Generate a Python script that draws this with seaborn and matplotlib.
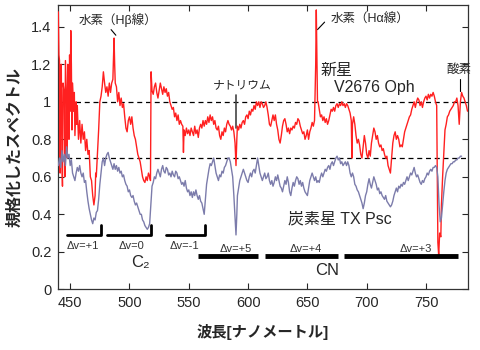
import numpy as np
import matplotlib
matplotlib.use("Agg")
import matplotlib.pyplot as plt
import seaborn as sns

# ---- data ----
# Nova V2676 Oph (red)
nova_wl = [440, 440.5, 441, 441.5, 442, 442.5, 443, 443.5, 444, 445, 445.5, 446, 447, 447.5,
           448, 448.5, 449, 449.5, 450, 450.5, 451, 451.5, 452, 453, 453.5, 454, 455, 455.5,
           456, 457, 458, 459, 460, 461, 462, 463, 464, 465, 466, 467, 468, 469, 470, 471,
           471.5, 472, 473, 474, 475, 476, 477, 478, 479, 480, 481, 482, 483, 484, 485, 486,
           487, 487.5, 488, 489, 490, 491, 492, 493, 494, 495, 496, 497, 498, 499, 500, 501,
           502, 503, 504, 505, 506, 507, 508, 509, 510, 511, 512, 513, 514, 515, 516, 517,
           517.7, 518.2, 519, 520, 521, 522, 523, 524, 525, 526, 527, 528, 529, 530, 531, 532,
           533, 534, 535, 536, 537, 538, 539, 540, 541, 542, 543, 544, 545, 545.5, 546, 547,
           548, 549, 550, 551, 552, 553, 554, 555, 556, 557, 558, 559, 560, 561, 562, 563,
           564, 565, 566, 567, 568, 569, 570, 571, 572, 573, 574, 575, 576, 577, 578, 579,
           580, 581, 582, 583, 584, 585, 586, 587, 588, 589, 589.8, 590.5, 591, 592, 593, 594,
           595, 596, 597, 598, 599, 600, 601, 602, 603, 604, 605, 606, 607, 608, 609, 610,
           611, 612, 613, 614, 615, 616, 617, 618, 619, 620, 621, 622, 623, 624, 625, 626,
           627, 628, 629, 630, 631, 632, 633, 634, 635, 636, 637, 638, 639, 640, 641, 642,
           643, 644, 645, 646, 647, 648, 649, 650, 651, 652, 653, 654, 655, 656, 657, 657.5,
           658, 658.5, 659, 660, 661, 662, 663, 664, 665, 666, 667, 668, 669, 670, 671, 672,
           673, 674, 675, 676, 677, 678, 679, 680, 681, 682, 683, 684, 685, 686, 687, 687.5,
           688, 689, 690, 691, 692, 693, 694, 695, 696, 697, 698, 699, 700, 701, 702, 703,
           704, 705, 706, 707, 708, 709, 710, 711, 712, 713, 714, 715, 716, 717, 718, 719,
           720, 721, 722, 723, 724, 725, 726, 727, 728, 729, 730, 731, 732, 733, 734, 735,
           736, 737, 738, 739, 740, 741, 742, 743, 744, 745, 746, 747, 748, 749, 750, 751,
           752, 753, 754, 755, 756, 757, 758, 759, 759.5, 760, 760.7, 761.5, 762.5, 763, 764,
           765, 766, 767, 768, 769, 770, 771, 772, 773, 774, 775, 776, 777, 778, 779, 780,
           781, 782, 783, 784, 785]
nova_flux = [1.48, 1.25, 1.22, 0.62, 1.15, 1.20, 0.70, 0.55, 1.10, 1.05, 0.60, 1.22, 1.00, 0.70,
             1.20, 1.10, 0.80, 1.25, 0.95, 1.38, 1.20, 0.85, 1.10, 0.95, 1.05, 0.82, 1.00, 0.88,
             0.98, 0.80, 0.90, 0.78, 0.88, 0.80, 0.84, 0.74, 0.80, 0.72, 0.74, 0.60, 0.58, 0.50,
             0.45, 0.50, 0.62, 0.60, 0.72, 0.85, 1.00, 1.03, 1.08, 1.16, 1.10, 1.05, 1.08, 1.03,
             1.10, 1.05, 1.10, 1.12, 1.34, 1.20, 1.10, 1.08, 1.00, 1.05, 0.98, 1.02, 0.97, 0.99,
             0.92, 0.86, 0.84, 0.90, 0.92, 0.88, 0.92, 0.86, 0.82, 0.80, 0.76, 0.72, 0.70, 0.68,
             0.64, 0.60, 0.58, 0.57, 0.60, 0.58, 0.62, 0.60, 0.58, 1.16, 1.06, 1.04, 1.08, 1.10,
             1.05, 1.02, 1.06, 1.10, 1.07, 1.04, 1.08, 1.05, 1.07, 1.03, 1.05, 1.00, 0.98, 0.96,
             0.97, 0.92, 0.94, 0.90, 0.93, 0.88, 0.90, 0.88, 0.87, 0.73, 0.85, 0.82, 0.86, 0.83,
             0.85, 0.82, 0.86, 0.84, 0.82, 0.87, 0.83, 0.85, 0.81, 0.86, 0.88, 0.86, 0.90, 0.87,
             0.90, 0.88, 0.92, 0.89, 0.93, 0.90, 0.92, 0.88, 0.90, 0.86, 0.85, 0.87, 0.82, 0.80,
             0.84, 0.82, 0.86, 0.84, 0.88, 0.90, 0.88, 0.87, 0.85, 0.87, 0.84, 0.78, 0.66, 0.80,
             0.87, 0.85, 0.88, 0.86, 0.89, 0.90, 0.88, 0.92, 0.93, 0.91, 0.95, 0.93, 0.96, 0.95,
             0.98, 0.96, 1.00, 0.98, 1.00, 0.97, 1.00, 0.99, 0.97, 0.98, 1.00, 0.97, 0.93, 0.88,
             0.87, 0.90, 0.93, 0.90, 0.93, 0.88, 0.85, 0.80, 0.78, 0.82, 0.87, 0.90, 0.91, 0.88,
             0.84, 0.86, 0.83, 0.86, 0.85, 0.87, 0.86, 0.89, 0.88, 0.91, 0.90, 0.87, 0.85, 0.83,
             0.84, 0.80, 0.82, 0.85, 0.80, 0.84, 0.86, 0.89, 0.87, 0.90, 1.20, 1.49, 1.25, 1.00,
             1.00, 0.96, 0.92, 0.93, 0.90, 0.92, 0.89, 0.91, 0.88, 0.90, 0.93, 0.96, 0.95, 0.97,
             0.95, 0.98, 0.99, 0.97, 0.99, 0.98, 1.00, 0.98, 0.99, 0.97, 0.99, 0.98, 0.96, 0.94,
             0.90, 0.70, 0.88, 0.92, 0.88, 0.82, 0.78, 0.80, 0.77, 0.72, 0.70, 0.76, 0.82, 0.78,
             0.72, 0.70, 0.74, 0.71, 0.78, 0.82, 0.86, 0.84, 0.80, 0.82, 0.78, 0.76, 0.77, 0.74,
             0.75, 0.72, 0.70, 0.71, 0.66, 0.64, 0.62, 0.70, 0.78, 0.82, 0.84, 0.80, 0.82, 0.80,
             0.76, 0.77, 0.76, 0.80, 0.84, 0.86, 0.88, 0.90, 0.92, 0.93, 0.96, 0.98, 1.00, 0.97,
             1.00, 1.02, 1.01, 0.98, 1.00, 0.97, 1.00, 1.02, 1.03, 1.01, 1.04, 1.02, 1.04, 1.03,
             1.05, 1.03, 1.00, 0.98, 0.60, 0.25, 0.18, 0.30, 0.28, 0.45, 0.60, 0.72, 0.85, 0.88,
             0.92, 0.93, 0.95, 0.96, 0.97, 0.98, 1.00, 1.00, 1.02, 0.98, 0.88, 1.00, 1.05, 1.03,
             1.02, 1.00, 0.98, 0.95]

# Carbon star TX Psc (blue-grey)
cstar_wl = [440, 441, 442, 443, 444, 445, 446, 447, 448, 449, 450, 451, 452, 453, 454, 455,
            456, 457, 458, 459, 460, 461, 462, 463, 464, 465, 466, 467, 468, 469, 470, 471,
            472, 473, 474, 475, 476, 477, 478, 479, 480, 481, 482, 483, 484, 485, 486, 487,
            488, 489, 490, 491, 492, 493, 494, 495, 496, 497, 498, 499, 500, 501, 502, 503,
            504, 505, 506, 507, 508, 509, 510, 511, 512, 513, 514, 515, 516, 517, 518, 519,
            520, 521, 522, 523, 524, 525, 526, 527, 528, 529, 530, 531, 532, 533, 534, 535,
            536, 537, 538, 539, 540, 541, 542, 543, 544, 545, 546, 547, 548, 549, 550, 551,
            552, 553, 554, 555, 556, 557, 558, 559, 560, 561, 562, 563, 564, 565, 566, 567,
            568, 569, 570, 571, 572, 573, 574, 575, 576, 577, 578, 579, 580, 581, 582, 583,
            584, 585, 586, 587, 588, 589, 589.8, 590.5, 591, 592, 593, 594, 595, 596, 597, 598,
            599, 600, 601, 602, 603, 604, 605, 606, 607, 608, 609, 610, 611, 612, 613, 614,
            615, 616, 617, 618, 619, 620, 621, 622, 623, 624, 625, 626, 627, 628, 629, 630,
            631, 632, 633, 634, 635, 636, 637, 638, 639, 640, 641, 642, 643, 644, 645, 646,
            647, 648, 649, 650, 651, 652, 653, 654, 655, 656, 657, 658, 659, 660, 661, 662,
            663, 664, 665, 666, 667, 668, 669, 670, 671, 672, 673, 674, 675, 676, 677, 678,
            679, 680, 681, 682, 683, 684, 685, 686, 687, 688, 689, 690, 691, 692, 693, 694,
            695, 696, 697, 698, 699, 700, 701, 702, 703, 704, 705, 706, 707, 708, 709, 710,
            711, 712, 713, 714, 715, 716, 717, 718, 719, 720, 721, 722, 723, 724, 725, 726,
            727, 728, 729, 730, 731, 732, 733, 734, 735, 736, 737, 738, 739, 740, 741, 742,
            743, 744, 745, 746, 747, 748, 749, 750, 751, 752, 753, 754, 755, 756, 757, 758,
            759, 760, 761, 762, 763, 764, 765, 766, 767, 768, 769, 770, 771, 772, 773, 774,
            775, 776, 777, 778, 779, 780]
cstar_flux = [0.66, 0.70, 0.65, 0.74, 0.68, 0.72, 0.66, 0.76, 0.70, 0.72, 0.66, 0.69, 0.62, 0.60,
              0.58, 0.62, 0.65, 0.63, 0.66, 0.62, 0.60, 0.62, 0.57, 0.58, 0.52, 0.47, 0.43, 0.40,
              0.37, 0.35, 0.38, 0.37, 0.41, 0.42, 0.48, 0.56, 0.62, 0.68, 0.70, 0.66, 0.70, 0.72,
              0.73, 0.70, 0.68, 0.66, 0.64, 0.67, 0.64, 0.66, 0.63, 0.65, 0.62, 0.63, 0.60, 0.61,
              0.58, 0.56, 0.55, 0.52, 0.53, 0.50, 0.49, 0.50, 0.47, 0.45, 0.46, 0.44, 0.42, 0.40,
              0.40, 0.37, 0.36, 0.34, 0.33, 0.32, 0.33, 0.35, 0.45, 0.55, 0.57, 0.60, 0.59, 0.62,
              0.64, 0.62, 0.60, 0.64, 0.66, 0.63, 0.62, 0.65, 0.64, 0.61, 0.62, 0.60, 0.63, 0.61,
              0.60, 0.63, 0.62, 0.59, 0.60, 0.58, 0.56, 0.57, 0.55, 0.58, 0.54, 0.52, 0.53, 0.50,
              0.52, 0.49, 0.52, 0.50, 0.53, 0.50, 0.48, 0.50, 0.47, 0.46, 0.43, 0.40, 0.48, 0.56,
              0.60, 0.64, 0.67, 0.66, 0.68, 0.70, 0.66, 0.62, 0.60, 0.58, 0.61, 0.60, 0.63, 0.62,
              0.65, 0.66, 0.68, 0.70, 0.70, 0.68, 0.64, 0.60, 0.50, 0.38, 0.29, 0.40, 0.50, 0.54,
              0.58, 0.60, 0.62, 0.64, 0.62, 0.60, 0.58, 0.57, 0.60, 0.62, 0.60, 0.63, 0.64, 0.62,
              0.66, 0.70, 0.66, 0.62, 0.60, 0.58, 0.60, 0.62, 0.59, 0.60, 0.62, 0.58, 0.56, 0.58,
              0.55, 0.57, 0.60, 0.58, 0.61, 0.58, 0.55, 0.54, 0.52, 0.55, 0.58, 0.56, 0.60, 0.57,
              0.52, 0.50, 0.54, 0.57, 0.55, 0.58, 0.60, 0.59, 0.56, 0.58, 0.55, 0.57, 0.54, 0.52,
              0.51, 0.50, 0.54, 0.58, 0.60, 0.62, 0.60, 0.58, 0.60, 0.57, 0.58, 0.57, 0.60, 0.62,
              0.60, 0.62, 0.64, 0.63, 0.65, 0.66, 0.64, 0.67, 0.68, 0.66, 0.68, 0.70, 0.71, 0.69,
              0.70, 0.67, 0.68, 0.66, 0.67, 0.68, 0.66, 0.68, 0.66, 0.62, 0.60, 0.62, 0.60, 0.56,
              0.55, 0.53, 0.52, 0.50, 0.48, 0.46, 0.43, 0.46, 0.50, 0.52, 0.56, 0.59, 0.56, 0.54,
              0.57, 0.60, 0.58, 0.56, 0.53, 0.54, 0.51, 0.52, 0.50, 0.49, 0.48, 0.50, 0.47, 0.46,
              0.45, 0.44, 0.45, 0.47, 0.50, 0.52, 0.54, 0.52, 0.55, 0.54, 0.56, 0.55, 0.57, 0.56,
              0.58, 0.60, 0.58, 0.60, 0.62, 0.61, 0.63, 0.65, 0.62, 0.60, 0.61, 0.59, 0.57, 0.56,
              0.58, 0.57, 0.59, 0.60, 0.62, 0.61, 0.63, 0.64, 0.63, 0.65, 0.65, 0.66, 0.65, 0.60,
              0.45, 0.36, 0.38, 0.45, 0.52, 0.58, 0.62, 0.64, 0.65, 0.66, 0.67, 0.67, 0.68, 0.68,
              0.69, 0.69, 0.70, 0.70, 0.71, 0.71]

# molecular band ranges [nm] and label centres
c2_bands = [(447, 476), (481, 518.5), (530.5, 563.5)]
c2_label_x = [461, 502, 546.5]
c2_labels = ["\u0394v=+1", "\u0394v=0", "\u0394v=-1"]
cn_bands = [(558, 608), (614, 676), (681, 777)]
cn_label_x = [590, 649, 741]
cn_labels = ["\u0394v=+5", "\u0394v=+4", "\u0394v=+3"]

ytick_vals = [0, 0.2, 0.4, 0.6, 0.8, 1.0, 1.2, 1.4]
ytick_labels = ["0", "0.2", "0.4", "0.6", "0.8", "1", "1.2", "1.4"]
xtick_vals = [450, 500, 550, 600, 650, 700, 750]

RED = "#ff2020"
BLUE = "#7c7cab"

sns.set_style("ticks")
plt.rcParams["font.family"] = ["Liberation Sans", "Noto Sans CJK JP", "DejaVu Sans"]

fig = plt.figure(figsize=(4.8, 3.5), dpi=100)
ax = fig.add_axes([0.1215, 0.1734, 0.8525, 0.8116])

sns.lineplot(x=nova_wl, y=nova_flux, ax=ax, color=RED, linewidth=1.0,
             estimator=None, sort=False, zorder=3)
sns.lineplot(x=cstar_wl, y=cstar_flux, ax=ax, color=BLUE, linewidth=1.0,
             estimator=None, sort=False, zorder=4)

# reference continuum levels
for lvl in (1.0, 0.7):
    ax.axhline(lvl, color="black", linestyle=(0, (4, 3)), linewidth=0.9, zorder=2)

# C2 brackets
for (x0, x1), lx, lab in zip(c2_bands, c2_label_x, c2_labels):
    ax.plot([x0, x1, x1], [0.29, 0.29, 0.345], color="black", linewidth=2, zorder=5)
    ax.text(lx, 0.232, lab, ha="center", va="center", fontsize=8, color="#333333")
ax.text(509, 0.145, "C\u2082", ha="center", va="center", fontsize=12)

# CN bars
for (x0, x1), lx, lab in zip(cn_bands, cn_label_x, cn_labels):
    ax.plot([x0, x1], [0.175, 0.175], color="black", linewidth=3.5, zorder=5,
            solid_capstyle="butt")
    ax.text(lx, 0.188, lab, ha="center", va="bottom", fontsize=8, color="#333333")
ax.text(667, 0.1, "CN", ha="center", va="center", fontsize=12)

# line identifications
ax.text(490.5, 1.435, "水素（Hβ線）", ha="center", va="center", fontsize=9)
ax.plot([484.5, 488.5], [1.385, 1.355], color="black", linewidth=0.8)
ax.text(702.5, 1.44, "水素（Hα線）", ha="center", va="center", fontsize=9)
ax.plot([658.5, 664.5], [1.385, 1.425], color="black", linewidth=0.8)
ax.text(595, 1.09, "ナトリウム", ha="center", va="center", fontsize=8.5)
ax.plot([589.7, 589.7], [1.035, 0.86], color="#444444", linewidth=1.2)
ax.text(778, 1.17, "酸素", ha="center", va="center", fontsize=9)
ax.plot([779, 779], [1.12, 1.06], color="black", linewidth=0.8)
ax.text(661.5, 1.17, "新星", ha="left", va="center", fontsize=11.5)
ax.text(672.5, 1.075, "V2676 Oph", ha="left", va="center", fontsize=11.5)
ax.text(677, 0.373, "炭素星 TX Psc", ha="center", va="center", fontsize=11.5)

ax.set_xlim(440, 785)
ax.set_ylim(0, 1.515)
ax.set_xticks(xtick_vals)
ax.set_yticks(ytick_vals)
ax.set_yticklabels(ytick_labels)
ax.tick_params(direction="in", top=True, right=True, length=4, width=0.8,
               labelsize=10.5, pad=5)
for sp in ax.spines.values():
    sp.set_linewidth(0.9)
    sp.set_color("#333333")

ax.set_xlabel("波長[ナノメートル]", fontsize=11, fontweight="bold", labelpad=10)
ax.set_ylabel("規格化したスペクトル", fontsize=11.5, fontweight="bold", labelpad=6)

fig.savefig("out.png", dpi=100)
